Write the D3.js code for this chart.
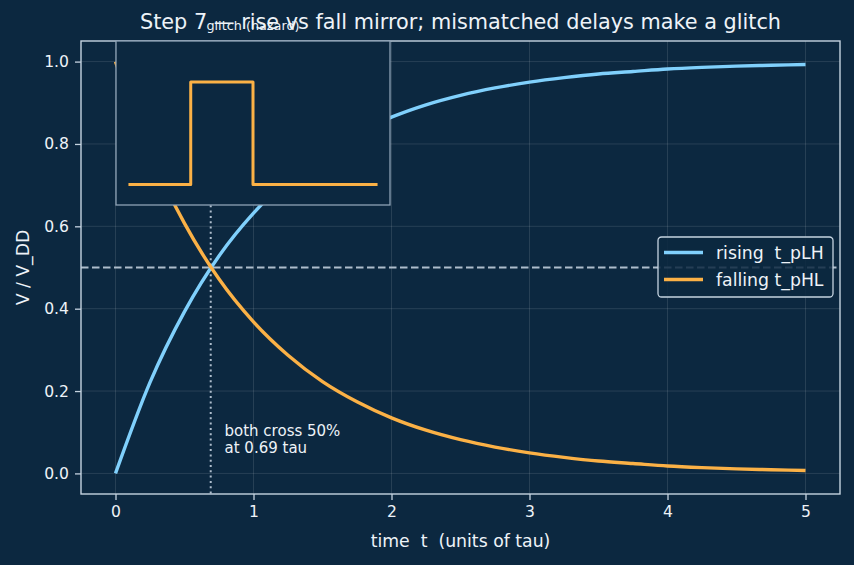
<!DOCTYPE html>
<html>
<head>
<meta charset="utf-8">
<script src="https://cdn.jsdelivr.net/npm/d3@7"></script>
<style>
  html, body { margin: 0; padding: 0; background: #0c2840; }
  svg { display: block; font-family: "DejaVu Sans", sans-serif; }
</style>
</head>
<body>
<div id="chart"></div>
<script>
// values (t in units of tau)
const tValues = [0, 0.25, 0.5, 0.75, 1.0, 1.25, 1.5, 1.75, 2.0, 2.25, 2.5, 2.75, 3.0, 3.25, 3.5, 3.75, 4.0, 4.25, 4.5, 4.75, 5.0];
const rising = [0, 0.221, 0.393, 0.528, 0.632, 0.713, 0.777, 0.826, 0.865, 0.895, 0.918, 0.936, 0.950, 0.961, 0.970, 0.976, 0.982, 0.986, 0.989, 0.991, 0.993];
const falling = [1, 0.779, 0.607, 0.472, 0.368, 0.287, 0.223, 0.174, 0.135, 0.105, 0.082, 0.064, 0.050, 0.039, 0.030, 0.024, 0.018, 0.014, 0.011, 0.009, 0.007];
const xTicks = [0, 1, 2, 3, 4, 5];
const yTicks = [0.0, 0.2, 0.4, 0.6, 0.8, 1.0];
const crossT = 0.69;
const threshold = 0.5;
// glitch inset: step waveform
const glitchT = [0, 1, 1, 2, 2, 4];
const glitchV = [0, 0, 1, 1, 0, 0];

const W = 854, H = 565;
const margin = { top: 41, right: 14, bottom: 71, left: 81 };
const width = W - margin.left - margin.right;
const height = H - margin.top - margin.bottom;

const bg = '#0c2840';
const fg = '#eef3f8';
const spine = '#c5d3e0';
const blue = '#80d0fc';
const orange = '#fbb146';

const svg = d3.select('#chart').append('svg')
  .attr('width', W).attr('height', H)
  .style('background', bg);

const g = svg.append('g').attr('transform', `translate(${margin.left},${margin.top})`);

const x = d3.scaleLinear().domain([-0.25, 5.25]).range([0, width]);
const y = d3.scaleLinear().domain([-0.05, 1.05]).range([height, 0]);

// grid
g.append('g').selectAll('line').data(xTicks).enter().append('line')
  .attr('x1', d => x(d)).attr('x2', d => x(d)).attr('y1', 0).attr('y2', height)
  .attr('stroke', '#ffffff').attr('stroke-opacity', 0.13).attr('stroke-width', 0.9);
g.append('g').selectAll('line').data(yTicks).enter().append('line')
  .attr('y1', d => y(d)).attr('y2', d => y(d)).attr('x1', 0).attr('x2', width)
  .attr('stroke', '#ffffff').attr('stroke-opacity', 0.13).attr('stroke-width', 0.9);

// axes
const xAxis = g.append('g').attr('transform', `translate(0,${height})`)
  .call(d3.axisBottom(x).tickValues(xTicks).tickFormat(d3.format('d')).tickSize(6).tickPadding(6));
const yAxis = g.append('g')
  .call(d3.axisLeft(y).tickValues(yTicks).tickFormat(d3.format('.1f')).tickSize(6).tickPadding(6));
[xAxis, yAxis].forEach(a => {
  a.select('.domain').remove();
  a.selectAll('line').attr('stroke', spine).attr('stroke-width', 1.3);
  a.selectAll('text').attr('fill', fg).style('font-size', '15.6px').style('font-family', '"DejaVu Sans", sans-serif');
});

// reference lines
g.append('line')
  .attr('x1', 0).attr('x2', width).attr('y1', y(threshold)).attr('y2', y(threshold))
  .attr('stroke', '#aebdcc').attr('stroke-width', 2).attr('stroke-dasharray', '7.5,3.5');
g.append('line')
  .attr('x1', x(crossT)).attr('x2', x(crossT)).attr('y1', 0).attr('y2', height)
  .attr('stroke', '#aebdcc').attr('stroke-width', 2).attr('stroke-dasharray', '2,3.3');

// curves
const line = d3.line().x((d, i) => x(tValues[i])).y(d => y(d)).curve(d3.curveMonotoneX);
g.append('path').datum(rising).attr('d', line)
  .attr('fill', 'none').attr('stroke', blue).attr('stroke-width', 3.4);
g.append('path').datum(falling).attr('d', line)
  .attr('fill', 'none').attr('stroke', orange).attr('stroke-width', 3.4);

// annotation
const ann = g.append('text').attr('x', x(0.79)).attr('y', 436 - margin.top)
  .attr('fill', fg).style('font-size', '15px');
ann.append('tspan').attr('x', x(0.79)).text('both cross 50%');
ann.append('tspan').attr('x', x(0.79)).attr('dy', 17).text('at 0.69 tau');

// spines
g.append('rect').attr('width', width).attr('height', height)
  .attr('fill', 'none').attr('stroke', spine).attr('stroke-width', 1.4);

// legend
const leg = g.append('g').attr('transform', `translate(${658 - margin.left},${237 - margin.top})`);
leg.append('rect').attr('width', 175).attr('height', 60).attr('rx', 3.5)
  .attr('fill', bg).attr('fill-opacity', 0.85).attr('stroke', spine).attr('stroke-width', 1.3);
[['rising  t_pLH', blue], ['falling t_pHL', orange]].forEach(([label, c], i) => {
  const yy = 15.5 + i * 27;
  leg.append('line').attr('x1', 6).attr('x2', 45).attr('y1', yy).attr('y2', yy)
    .attr('stroke', c).attr('stroke-width', 3.4);
  leg.append('text').attr('x', 58).attr('y', yy + 6).attr('fill', fg)
    .style('font-size', '17.3px').style('white-space', 'pre').text(label);
});

// title
svg.append('text').attr('x', margin.left + width / 2).attr('y', 29)
  .attr('text-anchor', 'middle').attr('fill', fg).style('font-size', '20.8px')
  .text('Step 7 \u2014 rise vs fall mirror; mismatched delays make a glitch');

// axis labels
svg.append('text').attr('x', margin.left + width / 2).attr('y', 547)
  .attr('text-anchor', 'middle').attr('fill', fg).style('font-size', '17.3px')
  .style('white-space', 'pre').text('time  t  (units of tau)');
svg.append('text').attr('transform', `translate(29,${margin.top + height / 2}) rotate(-90)`)
  .attr('text-anchor', 'middle').attr('fill', fg).style('font-size', '17.3px')
  .text('V / V_DD');

// inset
const inset = { left: 116, top: 41, w: 274, h: 164 };
const ig = svg.append('g').attr('transform', `translate(${inset.left},${inset.top})`);
ig.append('rect').attr('width', inset.w).attr('height', inset.h).attr('fill', bg);
const ix = d3.scaleLinear().domain([-0.2, 4.2]).range([0, inset.w]);
const iy = d3.scaleLinear().domain([-0.2, 1.4]).range([inset.h, 0]);
const iline = d3.line().x((d, i) => ix(glitchT[i])).y(d => iy(d));
ig.append('path').datum(glitchV).attr('d', iline)
  .attr('fill', 'none').attr('stroke', orange).attr('stroke-width', 3).attr('stroke-linejoin', 'round');
ig.append('rect').attr('width', inset.w).attr('height', inset.h)
  .attr('fill', 'none').attr('stroke', '#8ea2b6').attr('stroke-width', 1.3);
svg.append('text').attr('x', inset.left + inset.w / 2).attr('y', 30)
  .attr('text-anchor', 'middle').attr('fill', fg).style('font-size', '12.8px')
  .text('glitch (hazard)');
</script>
</body>
</html>
